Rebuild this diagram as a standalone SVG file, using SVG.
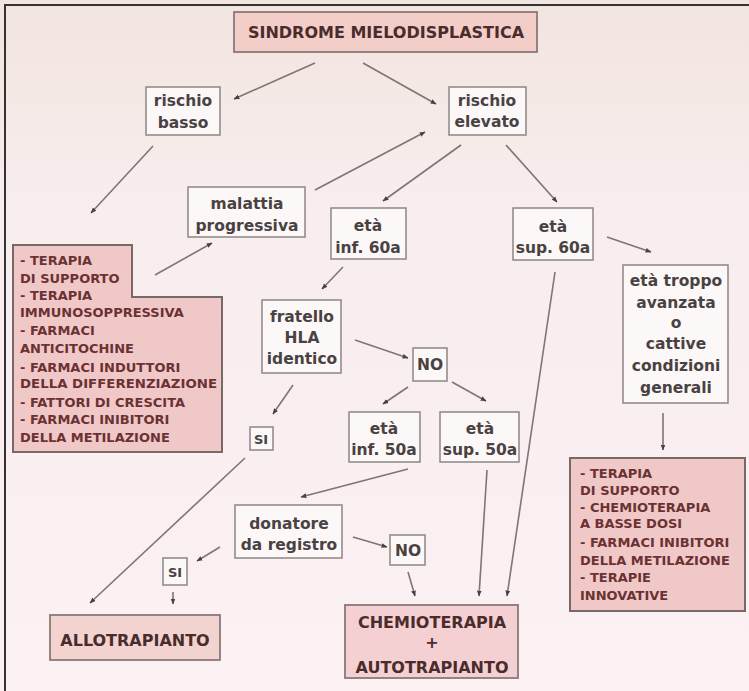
<svg xmlns="http://www.w3.org/2000/svg" width="749" height="691" viewBox="0 0 749 691">
<defs>
<linearGradient id="bg" x1="0" y1="0" x2="0" y2="1">
<stop offset="0" stop-color="#f2e4df"/>
<stop offset="0.3" stop-color="#f8eeee"/>
<stop offset="0.6" stop-color="#f9eef0"/>
<stop offset="1" stop-color="#fcf2f4"/>
</linearGradient>
<marker id="ah" viewBox="0 0 10 10" refX="9" refY="5" markerWidth="6" markerHeight="6" orient="auto" markerUnits="userSpaceOnUse">
<path d="M0,1 L10,5 L0,9 z" fill="#4a4040"/>
</marker>
</defs>
<style>
.box{fill:#fcf8f8;stroke:#8f8585;stroke-width:1.5}
.pink{fill:#f3cdc8;stroke:#8a7878;stroke-width:1.8}
.lst{fill:#f1c8c8;stroke:#7a6868;stroke-width:2}
.t{font-family:"DejaVu Sans",sans-serif;font-weight:bold;font-size:15.5px;fill:#4a4242;text-anchor:middle}
.h{font-family:"DejaVu Sans",sans-serif;font-weight:bold;font-size:16px;fill:#4a2c2c;text-anchor:middle}
.l{font-family:"DejaVu Sans",sans-serif;font-weight:bold;font-size:13px;fill:#6a3232}
.c line{stroke:#7f7575;stroke-width:1.6;marker-end:url(#ah)}
</style>
<rect x="0" y="0" width="749" height="691" fill="url(#bg)"/>
<line x1="4" y1="5" x2="749" y2="5" stroke="#333" stroke-width="2"/>
<line x1="5" y1="4" x2="5" y2="691" stroke="#333" stroke-width="2"/>

<g id="connectors" class="c">
<line x1="315" y1="63" x2="234" y2="99"/>
<line x1="363" y1="63" x2="436" y2="104"/>
<line x1="153" y1="146" x2="91" y2="213"/>
<line x1="315" y1="190" x2="425" y2="132"/>
<line x1="155" y1="275" x2="212" y2="243"/>
<line x1="461" y1="145" x2="383" y2="201"/>
<line x1="506" y1="145" x2="557" y2="202"/>
<line x1="607" y1="237" x2="651" y2="252"/>
<line x1="343" y1="267" x2="322" y2="289"/>
<line x1="355" y1="340" x2="408" y2="358"/>
<line x1="408" y1="387" x2="383" y2="404"/>
<line x1="452" y1="382" x2="486" y2="401"/>
<line x1="293" y1="385" x2="273" y2="414"/>
<line x1="663" y1="413" x2="663" y2="450"/>
<line x1="408" y1="469" x2="301" y2="497"/>
<line x1="245" y1="458" x2="90" y2="603"/>
<line x1="220" y1="547" x2="197" y2="561"/>
<line x1="173" y1="592" x2="173" y2="604"/>
<line x1="353" y1="537" x2="387" y2="547"/>
<line x1="408" y1="572" x2="415" y2="596"/>
<line x1="487" y1="470" x2="479" y2="596"/>
<line x1="555" y1="272" x2="507" y2="596"/>
</g>

<g id="n-title">
<rect class="pink" x="234" y="12" width="303" height="40"/>
<text class="h" x="386" y="38">SINDROME MIELODISPLASTICA</text>
</g>
<g id="n-basso">
<rect class="box" x="146" y="87" width="74" height="48"/>
<text class="t" x="183" y="106">rischio</text>
<text class="t" x="183" y="128">basso</text>
</g>
<g id="n-elevato">
<rect class="box" x="449" y="87" width="77" height="48"/>
<text class="t" x="487" y="106">rischio</text>
<text class="t" x="487" y="127">elevato</text>
</g>
<g id="n-progressiva">
<rect class="box" x="188" y="187" width="117" height="50"/>
<text class="t" x="247" y="209">malattia</text>
<text class="t" x="247" y="231">progressiva</text>
</g>
<g id="n-inf60">
<rect class="box" x="331" y="208" width="75" height="51"/>
<text class="t" x="368" y="231">età</text>
<text class="t" x="368" y="253">inf. 60a</text>
</g>
<g id="n-sup60">
<rect class="box" x="513" y="208" width="80" height="52"/>
<text class="t" x="553" y="232">età</text>
<text class="t" x="553" y="253">sup. 60a</text>
</g>
<g id="n-troppo">
<rect class="box" x="623" y="265" width="105" height="138"/>
<text class="t" x="676" y="286">età troppo</text>
<text class="t" x="676" y="308">avanzata</text>
<text class="t" x="676" y="328">o</text>
<text class="t" x="676" y="349">cattive</text>
<text class="t" x="676" y="371">condizioni</text>
<text class="t" x="676" y="393">generali</text>
</g>
<g id="n-lista1">
<polygon class="lst" points="13,245 132,245 132,297 222,297 222,452 13,452"/>
<text class="l" x="20" y="265">- TERAPIA</text>
<text class="l" x="20" y="283">DI SUPPORTO</text>
<text class="l" x="20" y="300">- TERAPIA</text>
<text class="l" x="20" y="317">IMMUNOSOPPRESSIVA</text>
<text class="l" x="20" y="335">- FARMACI</text>
<text class="l" x="20" y="353">ANTICITOCHINE</text>
<text class="l" x="20" y="372">- FARMACI INDUTTORI</text>
<text class="l" x="20" y="388" textLength="197" lengthAdjust="spacingAndGlyphs">DELLA DIFFERENZIAZIONE</text>
<text class="l" x="20" y="407">- FATTORI DI CRESCITA</text>
<text class="l" x="20" y="424">- FARMACI INIBITORI</text>
<text class="l" x="20" y="442">DELLA METILAZIONE</text>
</g>
<g id="n-fratello">
<rect class="box" x="262" y="300" width="79" height="73"/>
<text class="t" x="302" y="322">fratello</text>
<text class="t" x="302" y="343">HLA</text>
<text class="t" x="302" y="364">identico</text>
</g>
<g id="n-no1">
<rect class="box" x="413" y="348" width="34" height="33"/>
<text class="t" x="430" y="370">NO</text>
</g>
<g id="n-si1">
<rect class="box" x="250" y="427" width="23" height="23"/>
<text class="t" x="261" y="444" style="font-size:13px">SI</text>
</g>
<g id="n-inf50">
<rect class="box" x="349" y="412" width="71" height="50"/>
<text class="t" x="384" y="434">età</text>
<text class="t" x="384" y="455">inf. 50a</text>
</g>
<g id="n-sup50">
<rect class="box" x="440" y="412" width="79" height="50"/>
<text class="t" x="480" y="434">età</text>
<text class="t" x="480" y="455">sup. 50a</text>
</g>
<g id="n-lista2">
<rect class="lst" x="570" y="458" width="175" height="153"/>
<text class="l" x="580" y="478">- TERAPIA</text>
<text class="l" x="580" y="495">DI SUPPORTO</text>
<text class="l" x="580" y="512">- CHEMIOTERAPIA</text>
<text class="l" x="580" y="528">A BASSE DOSI</text>
<text class="l" x="580" y="547">- FARMACI INIBITORI</text>
<text class="l" x="580" y="565">DELLA METILAZIONE</text>
<text class="l" x="580" y="582">- TERAPIE</text>
<text class="l" x="580" y="600">INNOVATIVE</text>
</g>
<g id="n-donatore">
<rect class="box" x="235" y="505" width="107" height="53"/>
<text class="t" x="289" y="529">donatore</text>
<text class="t" x="289" y="550">da registro</text>
</g>
<g id="n-si2">
<rect class="box" x="163" y="558" width="24" height="27"/>
<text class="t" x="175" y="577" style="font-size:13px">SI</text>
</g>
<g id="n-no2">
<rect class="box" x="390" y="535" width="35" height="30"/>
<text class="t" x="408" y="556">NO</text>
</g>
<g id="n-allo">
<rect class="pink" x="50" y="615" width="170" height="45" style="fill:#f2d3cf"/>
<text class="h" x="135" y="646">ALLOTRAPIANTO</text>
</g>
<g id="n-chemio">
<rect class="pink" x="345" y="605" width="173" height="73" style="fill:#f5d0d3"/>
<text class="h" x="432" y="628">CHEMIOTERAPIA</text>
<text class="h" x="432" y="648">+</text>
<text class="h" x="432" y="673">AUTOTRAPIANTO</text>
</g>
</svg>
